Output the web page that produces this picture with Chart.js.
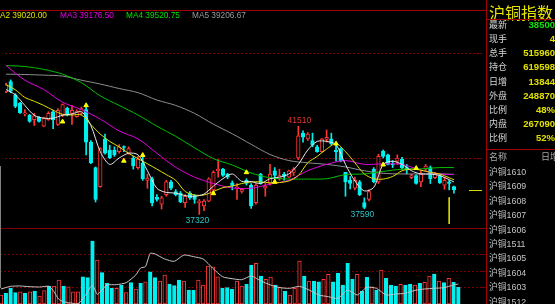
<!DOCTYPE html>
<html>
<head>
<meta charset="utf-8">
<script src="https://cdn.jsdelivr.net/npm/chart.js@4.4.1/dist/chart.umd.min.js"></script>
<style>
  body { margin: 0; background: #000; width: 555px; height: 304px; overflow: hidden; position: relative;
         font-family: "Liberation Sans", Arial, sans-serif; }
  canvas { position: absolute; left: 0; }
  #k { top: 0; }
  #v { top: 229px; }
  .hl { position: absolute; height: 1px; }
  .vl { position: absolute; width: 1px; }
  #legend span { position: absolute; top: 11px; font-size: 8.3px; line-height: 9px; white-space: nowrap; }
  #panel { position: absolute; left: 487px; top: 0; width: 68px; height: 304px; overflow: hidden; }
  #panel div { position: absolute; white-space: nowrap; }
  .cn { font-family: "Noto Sans CJK SC", sans-serif; }
</style>
</head>
<body>
<canvas id="k" width="487" height="229"></canvas>
<canvas id="v" width="487" height="75"></canvas>
<div id="legend"></div>
<div id="panel"></div>

<div class="hl" style="left:0;top:10px;width:487px;background:#a00000"></div>
<div class="hl" style="left:0;top:228px;width:487px;background:#840000"></div>
<div class="hl" style="left:487px;top:19px;width:68px;background:#a00000"></div>
<div class="hl" style="left:487px;top:149px;width:68px;background:#a00000"></div>
<div class="vl" style="left:486px;top:0;height:304px;background:#a00000"></div>
<div class="vl" style="left:0;top:166px;height:122px;background:#808080"></div>

<script>
/* ============================================
   DATA
   ============================================ */

// daily OHLC, oldest first
const opens  = [43150,43636,43000,42606,42100,42045,41818,41939,41515,41818,42197,41591,42045,42378,42121,41970,42121,42303,40757,39545,
                38637,40909,40379,40379,40303,40545,40227,40000,39545,39773,38940,39015,38136,37803,38258,38864,38409,38333,37879,38333,
                38212,37879,37727,37954,38485,39394,39470,39242,38818,38561,38409,38940,38712,37879,39242,38561,38788,39394,39015,39242,
                39091,39318,40000,41182,40909,40833,40530,40303,40879,40909,40379,40454,39318,38940,38561,38864,37879,38030,39470,38864,
                40333,40151,39727,39848,39955,39545,39061,39167,38864,39470,39545,39061,39167,38712,38864,38640];
const highs  = [43560,43712,43060,42651,42300,42075,42121,41970,41939,42197,42272,42350,42575,42420,42500,42300,42424,42424,40833,39576,
                40485,41136,40606,40530,40636,40575,40530,40076,40076,40076,39242,39091,38257,38182,38940,38940,38500,38409,38258,38409,
                38258,38030,38030,39060,39394,39924,39515,39273,38909,38788,38560,39015,38788,38788,39273,38788,39697,39545,39470,39318,
                39424,39545,41510,41288,41212,41182,40606,40939,41333,41182,40606,40485,39318,39121,39091,38940,38106,38485,39545,40182,
                40379,40182,39879,40151,40030,39697,39242,39212,39394,39697,39621,39318,39242,39091,38940,38667];
const lows   = [43100,43106,42394,42121,42000,41700,41545,41700,41485,41788,41394,41545,41970,42000,41591,41939,42045,40151,39727,37909,
                38606,40182,39970,40076,40227,40300,40182,39470,39470,38940,38560,37727,37954,37576,38182,38500,38200,37879,37652,38030,
                37848,37320,37500,37924,38409,39091,39121,39015,38485,38030,38333,38712,37606,37803,38757,38182,38712,38940,38940,38940,
                39060,39167,39924,40757,40833,40530,40273,40273,40757,40606,39848,39818,38182,38530,38485,38212,37590,37955,38818,38788,
                40000,39667,39545,39697,39470,39242,39015,38757,38636,39394,38788,39015,38788,38515,38485,38333];
const closes = [43480,43181,42454,42151,42150,41742,42000,41742,41894,42121,41818,42272,42545,42045,42272,42227,42348,40757,39773,38030,
                40454,40227,40000,40151,40530,40500,40454,39621,39955,39015,39045,37879,38030,38106,38864,38561,38258,37909,38182,38106,
                38030,37954,37954,39015,39318,39470,39167,39091,38697,38636,38515,38788,37727,38712,38788,38667,39242,39167,39167,39121,
                39394,39470,41060,40985,41136,40606,40303,40909,40985,40682,40303,39848,38864,38788,38940,38258,37652,38409,38864,40076,
                40076,39697,39667,40000,39545,39470,39167,38788,39242,39621,39015,39273,38818,38940,38788,38500];

// traded lots per day
const volumes = [54500,64800,95100,68500,74500,64800,74500,78800,48500,80600,109000,109000,145400,109000,104800,74500,74500,165400,159400,381800,
                 266600,189700,125400,95100,95100,115100,68500,129100,90900,125400,135100,195700,159400,139400,175700,121200,110900,145400,139400,84800,
                 83000,145400,115100,230300,226000,165400,95100,98800,90900,139400,109000,119400,236300,246600,169700,149700,163600,115100,103000,78800,
                 54500,95100,260600,169700,139400,139400,135100,149700,180000,135100,186000,115100,246600,151500,180000,78800,161800,104800,84800,206000,
                 155700,115100,109000,119400,115100,119400,115100,125400,131500,169700,181800,139400,129100,155700,131500,101200];

// moving average lines, read at the listed day indexes
const evenIdx = [0,2,4,6,8,10,12,14,16,18,20,22,24,26,28,30,32,34,36,38,40,42,44,46,48,50,52,54,56,58,60,62,64,66,68,70,72,74,76,78,80,82,84,86,88,90,92,94,95];
const ma1 = [43257,43000,42500,42030,41894,41894,42030,42091,42197,41545,40303,39697,40000,40227,40151,39394,38561,38364,38333,38212,38182,38288,38667,39015,39242,
             38894,38879,38788,39015,39091,39242,39697,40379,40788,40788,40636,39697,38909,38439,38606,39697,39848,39697,39394,39242,39242,39167,38970,38864];
const ma2 = [43485,43242,42879,42697,42500,42273,42075,42045,42045,41591,41136,40788,40530,40227,39970,39727,39470,39212,38940,38409,38243,38243,38409,38591,38667,
             38788,38864,38864,38818,38833,38909,39167,39773,40076,40424,40682,40303,39773,39242,39015,39000,39121,39394,39470,39424,39318,39242,39061,38970];
const quadIdx = [0,4,8,12,16,20,24,28,32,36,40,44,48,52,56,60,64,68,72,76,80,84,88,92,95];
const ma3 = [44394,43700,43257,42651,42303,41848,41288,40909,40227,39560,39091,38788,38576,38561,38758,38940,39400,39697,39879,39697,39727,39697,39424,39242,39212];
const ma4 = [44394,44348,44212,43985,43580,42954,42500,42045,41515,41030,40485,39970,39667,39288,39061,39000,39000,39015,39212,39242,39364,39470,39485,39545,39545];
const ma5 = [43984,43969,43939,43894,43697,43515,43303,43106,42757,42500,42121,41606,41151,40651,40167,39879,39773,39697,39576,39394,39273,39242,39242,39242,39227];
const maNames = ['MA2', 'MA3', 'MA4', 'MA5'];
const maLast  = ['39020.00', '39176.50', '39520.75', '39206.67'];

// open interest (white line in the volume panel)
const oiIdx  = [0,2,4,6,8,10,11,12,13,14,15,16,17,18,19,20,21,22,24,26,28,29,30,31,32,34,36,38,40,42,44,46,48,50,52,54,56,58,60,62,64,66,68,70,72,74,76,78,80,82,84,86,88,90,92,94,95];
const oiVals = [607100,613800,614600,612900,612100,613800,600400,581300,575400,572900,571300,570400,582100,600400,617100,593800,604600,617100,617900,622900,
                642100,659600,662900,696300,694600,682100,676300,692100,687900,682100,658800,637900,632900,630400,639600,627100,617100,610400,608800,613800,
                604600,592100,587900,583800,604600,592100,611300,608800,592100,594600,596300,603800,607100,608800,610400,617100,619598];

// signal arrows
const signalIdx   = [12,17,25,29,44,51,57,70,80,87];
const signalPrice = [41727,42500,39864,40136,38318,39318,38864,40682,39682,39515];

// annotated extremes, cursor day
const highMarks = [62];
const lowMarks  = [41, 76];
const cursorDay = 94;

// price / volume grid values
const priceGrid = [40000, 45000];
const volGrid   = [100000, 200000, 300000];

// side panel
const quoteLabels = ['最新','现手','总手','持仓','日增','外盘','比例','内盘','比例'];
const quoteValues = ['38500','4','515960','619598','13844','248870','48%','267090','52%'];
const contracts   = ['沪铜1610','沪铜1609','沪铜1608','沪铜1607','沪铜1606','沪铜1511','沪铜1605','沪铜1604','沪铜1603','沪铜1512'];

/* ============================================
   HELPERS
   ============================================ */

const RED = '#ff3636';
const CYAN = '#00f0f0';
const PRICE_MIN = 36864, PRICE_MAX = 47272;
const X_MIN = -0.2077, X_MAX = 100.955;

const days = closes.map((c, i) => i);
const isUp = closes.map((c, i) => c >= opens[i]);

function lineSet(idx, vals, color, order) {
  return {
    type: 'line',
    data: idx.map((x, k) => ({ x, y: vals[k] })),
    borderColor: color,
    borderWidth: 1,
    pointRadius: 0,
    tension: 0.3,
    fill: false,
    order: order
  };
}

// dotted grid lines, solid for the last few pixels
const gridLines = {
  id: 'gridLines',
  beforeDatasetsDraw(chart, args, opts) {
    const { ctx, chartArea } = chart;
    const scale = chart.scales.y;
    ctx.save();
    ctx.strokeStyle = opts.color;
    ctx.lineWidth = 1;
    opts.values.forEach(v => {
      const y = Math.round(scale.getPixelForValue(v)) + 0.5;
      ctx.setLineDash([2, 2]);
      ctx.beginPath();
      ctx.moveTo(chartArea.left, y);
      ctx.lineTo(chartArea.right - 6, y);
      ctx.stroke();
      ctx.setLineDash([]);
      ctx.beginPath();
      ctx.moveTo(chartArea.right - 6, y);
      ctx.lineTo(chartArea.right, y);
      ctx.stroke();
    });
    ctx.restore();
  }
};

// high / low labels and the last price tick
const priceNotes = {
  id: 'priceNotes',
  afterDatasetsDraw(chart) {
    const { ctx, chartArea } = chart;
    const xs = chart.scales.x, ys = chart.scales.y;
    ctx.save();
    ctx.font = '8.5px "Liberation Sans", Arial, sans-serif';
    ctx.textAlign = 'center';
    ctx.textBaseline = 'alphabetic';
    highMarks.forEach(i => {
      ctx.fillStyle = '#e03636';
      ctx.fillText(String(highs[i]), xs.getPixelForValue(i) + 1, ys.getPixelForValue(highs[i]) - 3);
    });
    lowMarks.forEach(i => {
      ctx.fillStyle = '#2cc4c4';
      ctx.fillText(String(lows[i]), xs.getPixelForValue(i) - 2, ys.getPixelForValue(lows[i]) + 8.5);
    });
    const yl = Math.round(ys.getPixelForValue(closes[closes.length - 1])) + 0.5;
    ctx.strokeStyle = '#d8d800';
    ctx.beginPath();
    ctx.moveTo(chartArea.right - 13, yl);
    ctx.lineTo(chartArea.right, yl);
    ctx.stroke();
    ctx.restore();
  }
};

const baseOptions = {
  responsive: false,
  animation: false,
  devicePixelRatio: 1,
  events: [],
  layout: { padding: 0 },
  plugins: { legend: { display: false }, tooltip: { enabled: false } }
};

/* ============================================
   CANDLE CHART
   ============================================ */

new Chart(document.getElementById('k'), {
  type: 'bar',
  data: {
    datasets: [
      {
        type: 'scatter',
        data: signalIdx.map((x, k) => ({ x, y: signalPrice[k] })),
        pointStyle: 'triangle',
        pointRadius: 2.6,
        backgroundColor: '#ffff00',
        borderColor: '#ffff00',
        borderWidth: 1,
        order: 0
      },
      lineSet(evenIdx, ma1, '#e8e8e8', 1),
      lineSet(evenIdx, ma2, '#e0e000', 1),
      lineSet(quadIdx, ma3, '#e000e0', 1),
      lineSet(quadIdx, ma4, '#00c000', 1),
      lineSet(quadIdx, ma5, '#8c8c8c', 1),
      {
        type: 'line',
        data: [{ x: cursorDay, y: 38130 }, { x: cursorDay, y: PRICE_MIN }],
        borderColor: '#d8d800',
        borderWidth: 1,
        pointRadius: 0,
        order: 1
      },
      {
        data: days.map(i => ({ x: i, y: [opens[i], closes[i]] })),
        backgroundColor: isUp.map(u => u ? '#000000' : CYAN),
        borderColor: isUp.map(u => u ? RED : CYAN),
        borderWidth: 1,
        borderSkipped: false,
        barThickness: 3.6,
        minBarLength: 1,
        grouped: false,
        order: 2
      },
      {
        data: days.map(i => ({ x: i, y: [lows[i], highs[i]] })),
        backgroundColor: isUp.map(u => u ? RED : CYAN),
        borderWidth: 0,
        barThickness: 1,
        grouped: false,
        order: 3
      }
    ]
  },
  options: {
    ...baseOptions,
    plugins: { ...baseOptions.plugins, gridLines: { values: priceGrid, color: '#7a0000' } },
    scales: {
      x: { type: 'linear', display: false, min: X_MIN, max: X_MAX, offset: false },
      y: { display: false, min: PRICE_MIN, max: PRICE_MAX }
    }
  },
  plugins: [gridLines, priceNotes]
});

/* ============================================
   VOLUME + OPEN INTEREST
   ============================================ */

new Chart(document.getElementById('v'), {
  type: 'bar',
  data: {
    datasets: [
      {
        type: 'line',
        data: oiIdx.map((x, k) => ({ x, y: oiVals[k] })),
        yAxisID: 'oi',
        borderColor: '#c4c4c4',
        borderWidth: 1,
        pointRadius: 0,
        tension: 0.2,
        order: 0
      },
      {
        data: days.map(i => ({ x: i, y: volumes[i] })),
        backgroundColor: isUp.map(u => u ? '#000000' : CYAN),
        borderColor: isUp.map(u => u ? RED : CYAN),
        borderWidth: 1,
        borderSkipped: false,
        barThickness: 3.6,
        grouped: false,
        order: 1
      }
    ]
  },
  options: {
    ...baseOptions,
    plugins: { ...baseOptions.plugins, gridLines: { values: volGrid, color: '#7a0000' } },
    scales: {
      x: { type: 'linear', display: false, min: X_MIN, max: X_MAX, offset: false },
      y: { display: false, min: 0, max: 454545 },
      oi: { display: false, min: 569598, max: 757098 }
    }
  },
  plugins: [gridLines]
});

/* ============================================
   LEGEND AND SIDE PANEL
   ============================================ */

const legendColors = ['#e0e000', '#e000e0', '#00e000', '#9a9a9a'];
const legendLeft = [-7, 60, 126, 192];
const legend = document.getElementById('legend');
maNames.forEach((n, k) => {
  const s = document.createElement('span');
  s.textContent = n + ' ' + maLast[k];
  s.style.left = legendLeft[k] + 'px';
  s.style.color = legendColors[k];
  legend.appendChild(s);
});

const panel = document.getElementById('panel');
function addText(text, left, centerY, css) {
  const d = document.createElement('div');
  d.textContent = text;
  d.style.left = left + 'px';
  d.style.top = (centerY - 7) + 'px';
  d.style.lineHeight = '14px';
  d.style.height = '14px';
  Object.assign(d.style, css);
  panel.appendChild(d);
  return d;
}

const title = addText('沪铜指数', 2, 9.5, { fontSize: '16px', lineHeight: '18px', height: '18px', color: '#e6e600' });
title.className = 'cn';

quoteLabels.forEach((t, k) => {
  const cy = 25 + 14.16 * k;
  addText(t, 2, cy, { fontSize: '9px', color: '#d8d8d8', fontFamily: '"Noto Sans CJK SC", sans-serif' });
  const v = addText(quoteValues[k], 0, cy, {
    fontSize: '9.5px', fontWeight: 'bold', color: k === 0 ? '#10e010' : '#e0e000', textAlign: 'right'
  });
  v.style.left = 'auto';
  v.style.right = '0px';
});

addText('名称', 2, 156.7, { fontSize: '9px', color: '#a8a8a8', fontFamily: '"Noto Sans CJK SC", sans-serif' });
addText('日增仓', 54, 156.7, { fontSize: '9px', color: '#a8a8a8', fontFamily: '"Noto Sans CJK SC", sans-serif' });

contracts.forEach((t, k) => {
  addText(t, 2, 171.7 + 14.45 * k, {
    fontSize: '8.8px', color: '#c4c4c4', fontFamily: '"Liberation Sans", "Noto Sans CJK SC", sans-serif'
  });
});
</script>
</body>
</html>
